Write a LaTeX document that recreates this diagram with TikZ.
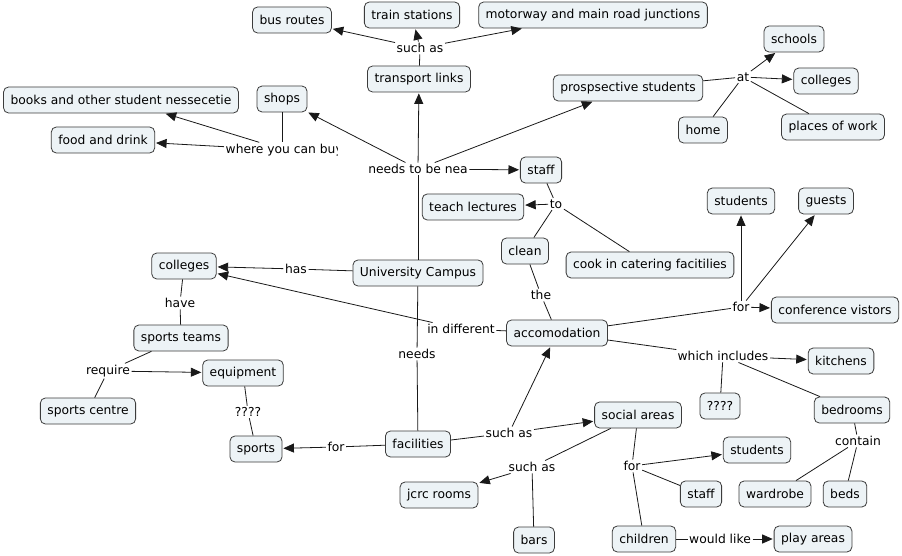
\documentclass[tikz,border=0pt]{standalone}
\usepackage{fontspec}
\setmainfont{DejaVu Sans}
\usetikzlibrary{arrows.meta}
\definecolor{cfill}{RGB}{237,243,246}
\definecolor{cborder}{RGB}{60,60,60}
\definecolor{cline}{RGB}{25,25,25}
\begin{document}
\begin{tikzpicture}[x=1pt,y=-1pt,
  concept/.style={draw=cborder, fill=cfill, rounded corners=5pt, line width=0.8pt,
    minimum height=26pt, inner xsep=7pt, inner ysep=2pt, font=\fontsize{12.3}{14}\selectfont},
  lbl/.style={inner sep=1.5pt, font=\fontsize{12.3}{14}\selectfont},
  ln/.style={draw=cline, line width=0.8pt},
  arr/.style={ln, -{Triangle[length=10.5pt,width=9pt]}, shorten >=1pt}]
\useasboundingbox[fill=white] (0,0) rectangle (902,556);

% concepts
\node[concept] (bus) at (292,20) {bus routes};
\node[concept] (train) at (412,15) {train stations};
\node[concept] (motor) at (593,15) {motorway and main road junctions};
\node[concept] (trans) at (419,79) {transport links};
\node[concept] (shops) at (282,99) {shops};
\node[concept] (books) at (121,100) {books and other student nessecetie};
\node[concept] (food) at (103,140) {food and drink};
\node[concept] (prosp) at (628,88) {prospsective students};
\node[concept] (schools) at (794,39) {schools};
\node[concept] (collR) at (826,81) {colleges};
\node[concept] (home) at (703,130) {home};
\node[concept] (places) at (833,127) {places of work};
\node[concept] (staff) at (541,170) {staff};
\node[concept] (teach) at (473,207) {teach lectures};
\node[concept] (clean) at (525,251) {clean};
\node[concept] (cook) at (650,265) {cook in catering facitilies};
\node[concept] (univ) at (418,273) {University Campus};
\node[concept] (collL) at (184,266) {colleges};
\node[concept] (steams) at (181,338) {sports teams};
\node[concept] (accom) at (557,333) {accomodation};
\node[concept] (facil) at (418,444) {facilities};
\node[concept] (social) at (638,415) {social areas};
\node[concept] (sports) at (256,449) {sports};
\node[concept] (equip) at (243,373) {equipment};
\node[concept] (centre) at (88,411) {sports centre};
\node[concept] (jcrc) at (439,495) {jcrc rooms};
\node[concept] (bars) at (534,540) {bars};
\node[concept] (stud2) at (757,450) {students};
\node[concept] (staff2) at (701,494) {staff};
\node[concept] (children) at (644,539) {children};
\node[concept] (play) at (813,539) {play areas};
\node[concept] (wardrobe) at (775,494) {wardrobe};
\node[concept] (beds) at (845,494) {beds};
\node[concept] (bedrooms) at (852,410) {bedrooms};
\node[concept] (qbox) at (720,406) {????};
\node[concept] (kitchens) at (841,361) {kitchens};
\node[concept] (conf) at (835,310) {conference vistors};
\node[concept] (stud1) at (741,201) {students};
\node[concept] (guests) at (826,201) {guests};

% linking phrases
\node[lbl] (suchT) at (420,48) {such as};
\begin{scope}
  \clip (220,135) rectangle (337,165);
  \node[lbl, anchor=west] (where) at (224,150) {where you can buy};
\end{scope}
\node[lbl] (near) at (418,169) {needs to be nea};
\node[lbl] (at) at (743,77) {at};
\node[lbl] (to) at (556,204) {to};
\node[lbl] (has) at (296,269) {has};
\node[lbl] (have) at (180,303) {have};
\node[lbl] (indiff) at (461,329) {in different};
\node[lbl] (the) at (541,295) {the};
\node[lbl] (needs) at (417,354) {needs};
\node[lbl] (suchM) at (509,433) {such as};
\node[lbl] (forS) at (336,447) {for};
\node[lbl] (q1) at (248,412) {????};
\node[lbl] (require) at (108,371) {require};
\node[lbl] (suchS) at (532,467) {such as};
\node[lbl] (forSoc) at (632,466) {for};
\node[lbl] (would) at (720,539) {would like};
\node[lbl] (contain) at (858,441) {contain};
\node[lbl] (which) at (723,356) {which includes};
\node[lbl] (forA) at (741,307) {for};

% connectors
\draw[ln] (trans) -- (suchT);
\draw[arr] (suchT) -- (bus);
\draw[arr] (suchT) -- (train);
\draw[arr] (suchT) -- (motor);

\draw[ln] (univ) -- (near);
\draw[arr] (near) -- (trans);
\draw[arr] (near) -- (shops);
\draw[arr] (near) -- (prosp);
\draw[arr] (near) -- (staff);

\draw[ln] (shops) -- (shops.south |- where.north);
\draw[arr] (where) -- (books);
\draw[arr] (where) -- (food);

\draw[ln] (prosp) -- (at);
\draw[arr] (at) -- (schools);
\draw[arr] (at) -- (collR);
\draw[ln] (at) -- (home);
\draw[ln] (at) -- (places);

\draw[ln] (staff) -- (to);
\draw[arr] (to) -- (teach);
\draw[ln] (to) -- (clean);
\draw[ln] (to) -- (cook);

\draw[ln] (clean) -- (the);
\draw[ln] (the) -- (accom);

\draw[ln] (univ) -- (has);
\draw[arr] (has) -- (collL);
\draw[ln] (accom) -- (indiff);
\draw[arr] (indiff) -- (collL);

\draw[ln] (collL) -- (have);
\draw[ln] (have) -- (steams);
\draw[ln] (steams) -- (require);
\draw[arr] (require) -- (equip);
\draw[ln] (require) -- (centre);
\draw[ln] (equip) -- (q1);
\draw[ln] (q1) -- (sports);

\draw[ln] (univ) -- (needs);
\draw[ln] (needs) -- (facil);
\draw[ln] (facil) -- (forS);
\draw[arr] (forS) -- (sports);

\draw[ln] (facil) -- (suchM);
\draw[arr] (suchM) -- (accom);
\draw[arr] (suchM) -- (social);

\draw[ln] (social) -- (suchS);
\draw[arr] (suchS) -- (jcrc);
\draw[ln] (suchS) -- (bars);

\draw[ln] (social) -- (forSoc);
\draw[arr] (forSoc) -- (stud2);
\draw[ln] (forSoc) -- (staff2);
\draw[ln] (forSoc) -- (children);

\draw[ln] (children) -- (would);
\draw[arr] (would) -- (play);

\draw[ln] (accom) -- (forA);
\draw[arr] (forA) -- (stud1);
\draw[arr] (forA) -- (guests);
\draw[arr] (forA) -- (conf);

\draw[ln] (accom) -- (which);
\draw[arr] (which) -- (kitchens);
\draw[ln] (which) -- (qbox);
\draw[ln] (which) -- (bedrooms);

\draw[ln] (bedrooms) -- (contain);
\draw[ln] (contain) -- (wardrobe);
\draw[ln] (contain) -- (beds);
\end{tikzpicture}
\end{document}
